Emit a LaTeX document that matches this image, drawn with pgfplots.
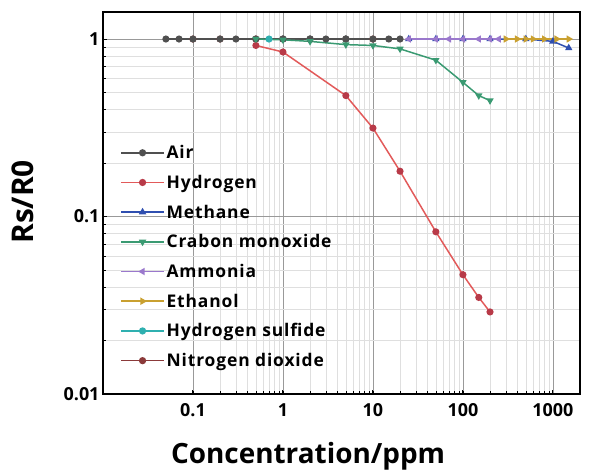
\documentclass[border=0pt]{standalone}
\usepackage{pgfplots}
\pgfplotsset{compat=1.18}
\usepackage{fontspec}
\setmainfont{Open Sans}
\newfontfamily\legfont{Open Sans}[LetterSpace=5]

\definecolor{cair}{HTML}{505050}
\definecolor{chyd}{HTML}{E25A5A}
\definecolor{chydm}{HTML}{B83A48}
\definecolor{cmet}{HTML}{2F4FB0}
\definecolor{cco}{HTML}{3A9A72}
\definecolor{camm}{HTML}{9A78CC}
\definecolor{ceth}{HTML}{C9A030}
\definecolor{chs}{HTML}{2FB0B0}
\definecolor{cno}{HTML}{8B3A3A}

\begin{document}
\begin{tikzpicture}
\begin{loglogaxis}[
    scale only axis,
    width=477bp, height=382bp,
    xmin=0.01, xmax=2000,
    ymin=0.01, ymax=1.42,
    xtick={0.1,1,10,100,1000},
    xticklabels={0.1,1,10,100,1000},
    ytick={0.01,0.1,1},
    yticklabels={0.01,0.1,1},
    xtick pos=bottom, ytick pos=left,
    /pgf/number format/assume math mode=true,
    tick label style={font=\bfseries\fontsize{18}{21}\selectfont},
    xticklabel style={yshift=-6pt},
    axis line style={line width=1.6pt},
    major tick style={line width=1pt, black},
    minor tick style={line width=0.6pt, black},
    grid=both,
    major grid style={gray!80, line width=0.6pt},
    minor grid style={gray!25, line width=0.5pt},
    xlabel={Concentration/ppm},
    ylabel={Rs/R0},
    xlabel style={font=\bfseries\fontsize{28}{32}\selectfont,
        at={(axis description cs:0.43,-0.163)}, anchor=center},
    ylabel style={font=\bfseries\fontsize{30}{34}\selectfont,
        at={(axis description cs:-0.168,0.503)}, anchor=center},
    legend style={draw=none, fill=none, at={(0.03,0.057)}, anchor=south west,
        font=\legfont\bfseries\fontsize{17.5}{20}\selectfont, row sep=11pt,
        legend cell align=left},
    legend image code/.code={
        \draw[line width=1.6pt, mark repeat=2, mark phase=2, #1] plot coordinates {(0cm,0cm) (0.75cm,0cm) (1.5cm,0cm)};
    },
    every axis plot/.append style={line width=1.5pt, mark size=2.8pt},
]
% hidden series first, drawn underneath
\addplot[chs, mark=*, forget plot] coordinates {
    (0.7,1.0) (1,1.0) (2,1.0) (5,1.0)
};
\addplot[cno, mark=*, forget plot] coordinates {
    (0.1,1.0) (0.2,1.0) (0.5,1.0) (1,1.0) (2,1.0) (5,1.0) (10,1.0)
};
\addplot[cmet, mark=triangle*, forget plot] coordinates {
    (25,1.0) (50,1.0) (100,1.0) (200,1.0) (500,1.0) (1000,0.97) (1500,0.89)
};

\addplot[cair, mark=*] coordinates {
    (0.05,1.0) (0.07,1.0) (0.1,1.0) (0.2,1.0) (0.3,1.0) (0.5,1.0) (1,1.0)
    (2,1.0) (3,1.0) (5,1.0) (10,1.0) (15,1.0) (20,1.0)
};
\addlegendentry{Air}
\addplot[chyd, mark=*, mark options={fill=chydm, draw=chydm}] coordinates {
    (0.5,0.92) (1,0.845) (5,0.48) (10,0.315) (20,0.18) (50,0.082)
    (100,0.047) (150,0.035) (200,0.029)
};
\addlegendentry{Hydrogen}
\addlegendimage{cmet, mark=triangle*}
\addlegendentry{Methane}
\addplot[cco, mark=triangle*, mark options={rotate=180}] coordinates {
    (0.5,1.0) (1,0.99) (2,0.97) (5,0.93) (10,0.92) (20,0.88) (50,0.76)
    (100,0.57) (150,0.48) (200,0.45)
};
\addlegendentry{Crabon monoxide}
\addplot[camm, mark=triangle*, mark options={rotate=90}] coordinates {
    (25,1.0) (50,1.0) (70,1.0) (100,1.0) (150,1.0) (200,1.0) (250,1.0)
};
\addlegendentry{Ammonia}
\addplot[ceth, mark=triangle*, mark options={rotate=270}] coordinates {
    (300,1.0) (400,1.0) (500,1.0) (600,1.0) (800,1.0) (1100,1.0) (1500,1.0)
};
\addlegendentry{Ethanol}
\addlegendimage{chs, mark=*}
\addlegendentry{Hydrogen sulfide}
\addlegendimage{cno, mark=*}
\addlegendentry{Nitrogen dioxide}
\end{loglogaxis}
\path ([xshift=-103bp,yshift=-78bp]current axis.south west) rectangle ([xshift=9bp,yshift=12bp]current axis.north east);
\end{tikzpicture}
\end{document}
